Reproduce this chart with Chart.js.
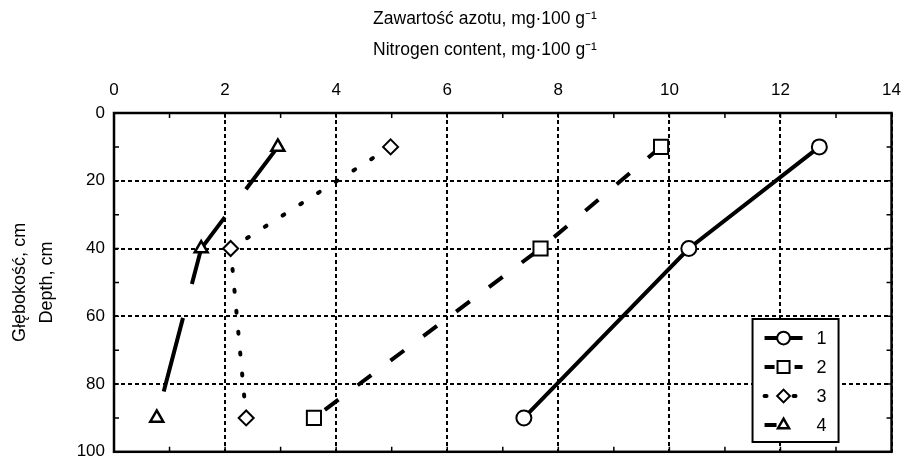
<!DOCTYPE html>
<html>
<head>
<meta charset="utf-8">
<script src="https://cdn.jsdelivr.net/npm/chart.js@4"></script>
<style>
  body { margin: 0; background: #fff; }
</style>
</head>
<body>
<canvas id="chart" width="913" height="471"></canvas>
<script>
// depth of each sample, cm
const depths = [10, 40, 90];
const seriesLabels = ['1', '2', '3', '4'];
// nitrogen content, mg/100 g
const nitrogen1 = [12.7, 10.35, 7.38];
const nitrogen2 = [9.85, 7.68, 3.6];
const nitrogen3 = [4.98, 2.1, 2.38];
const nitrogen4 = [2.95, 1.57, 0.77];
const xTicks = [0, 2, 4, 6, 8, 10, 12, 14];
const yTicks = [0, 20, 40, 60, 80, 100];

Chart.defaults.font.family = "'Liberation Sans', Arial, sans-serif";
Chart.defaults.font.size = 17;
Chart.defaults.color = '#000';

const toPoints = vals => vals.map((v, i) => ({ x: v, y: depths[i] }));

const common = {
    borderColor: '#000',
    borderWidth: 4,
    tension: 0,
    pointBackgroundColor: '#fff',
    pointBorderColor: '#000',
    pointBorderWidth: 2
};

const datasets = [
    { ...common, label: seriesLabels[0], data: toPoints(nitrogen1), pointStyle: 'circle', pointRadius: 7.5, legendDash: [] },
    { ...common, label: seriesLabels[1], data: toPoints(nitrogen2), borderDash: [17, 24], pointStyle: 'rect', pointRadius: 10, legendDash: [10, 20] },
    { ...common, label: seriesLabels[2], data: toPoints(nitrogen3), borderDash: [2, 19], borderCapStyle: 'round', pointStyle: 'rectRot', pointRadius: 7.5, legendDash: [2, 27] },
    { ...common, label: seriesLabels[3], data: toPoints(nitrogen4), borderDash: [76, 35], borderDashOffset: 23, pointStyle: 'triangle', pointRadius: 7.5, pointBorderWidth: 2.5, legendDash: [12, 40] }
];

// solid frame round the plot, with small inward ticks
const framePlugin = {
    id: 'frame',
    beforeDatasetsDraw(chart) {
        const { ctx, chartArea: a, scales } = chart;
        ctx.save();
        ctx.strokeStyle = '#000';
        ctx.lineWidth = 1.5;
        ctx.beginPath();
        for (let v = 1; v < 14; v++) {
            const px = scales.x.getPixelForValue(v);
            ctx.moveTo(px, a.top); ctx.lineTo(px, a.top + 5);
            ctx.moveTo(px, a.bottom); ctx.lineTo(px, a.bottom - 5);
        }
        for (let v = 10; v < 100; v += 10) {
            const py = scales.y.getPixelForValue(v);
            ctx.moveTo(a.left, py); ctx.lineTo(a.left + 5, py);
            ctx.moveTo(a.right, py); ctx.lineTo(a.right - 5, py);
        }
        ctx.stroke();
        ctx.lineWidth = 2.5;
        ctx.strokeRect(a.left, a.top, a.right - a.left, a.bottom - a.top);
        ctx.restore();
    }
};

// legend box inside the plot: line sample + marker + label
const legendPlugin = {
    id: 'boxLegend',
    afterDraw(chart) {
        const { ctx, chartArea: a } = chart;
        const left = a.right - 139;
        const top = a.top + 206;
        ctx.save();
        ctx.fillStyle = '#fff';
        ctx.fillRect(left, top, 86, 123);
        ctx.strokeStyle = '#000';
        ctx.lineWidth = 2;
        ctx.strokeRect(left, top, 86, 123);
        chart.data.datasets.forEach((ds, i) => {
            const y = top + 19 + i * 29;
            ctx.save();
            ctx.strokeStyle = '#000';
            ctx.lineWidth = 4;
            ctx.lineCap = ds.borderCapStyle || 'butt';
            ctx.setLineDash(ds.legendDash);
            ctx.beginPath();
            ctx.moveTo(left + 12, y);
            ctx.lineTo(left + 50, y);
            ctx.stroke();
            ctx.restore();
            ctx.fillStyle = '#fff';
            ctx.strokeStyle = '#000';
            ctx.lineWidth = ds.pointBorderWidth;
            Chart.helpers.drawPoint(ctx, {
                pointStyle: ds.pointStyle,
                radius: ds.pointRadius * 0.85,
                rotation: 0,
                borderWidth: ds.pointBorderWidth
            }, left + 31, y);
            ctx.fillStyle = '#000';
            ctx.font = "18px 'Liberation Sans', Arial, sans-serif";
            ctx.textBaseline = 'middle';
            ctx.textAlign = 'left';
            ctx.fillText(ds.label, left + 64, y + 1);
        });
        ctx.restore();
    }
};

new Chart(document.getElementById('chart'), {
    type: 'line',
    data: { datasets },
    options: {
        responsive: false,
        animation: false,
        layout: { padding: { left: 68, right: 11, top: 0, bottom: 8 } },
        plugins: {
            legend: { display: false },
            tooltip: { enabled: false },
            title: {
                display: true,
                text: ['Zawartość azotu, mg·100 g⁻¹', 'Nitrogen content, mg·100 g⁻¹'],
                font: { size: 17.5, weight: 'normal', lineHeight: '31px' },
                padding: { top: 3.5, bottom: 0 },
                color: '#000'
            }
        },
        scales: {
            x: {
                type: 'linear',
                position: 'top',
                min: 0,
                max: 14,
                afterBuildTicks: s => { s.ticks = xTicks.map(v => ({ value: v })); },
                afterFit: s => { s.height = 47.5; },
                grid: { color: '#000', lineWidth: 2, drawTicks: false },
                border: { display: false, dash: [4, 3] },
                ticks: { padding: 12 }
            },
            y: {
                type: 'linear',
                reverse: true,
                min: 0,
                max: 100,
                afterBuildTicks: s => { s.ticks = yTicks.map(v => ({ value: v })); },
                afterFit: s => { s.width = 46; },
                grid: { color: '#000', lineWidth: 2, drawTicks: false },
                border: { display: false, dash: [4, 3] },
                ticks: { padding: 9 },
                title: {
                    display: true,
                    text: ['Głębokość, cm', 'Depth, cm'],
                    font: { size: 18, lineHeight: '27px' },
                    padding: { top: -61.5, bottom: 0 }
                }
            }
        }
    },
    plugins: [framePlugin, legendPlugin]
});
</script>
</body>
</html>
